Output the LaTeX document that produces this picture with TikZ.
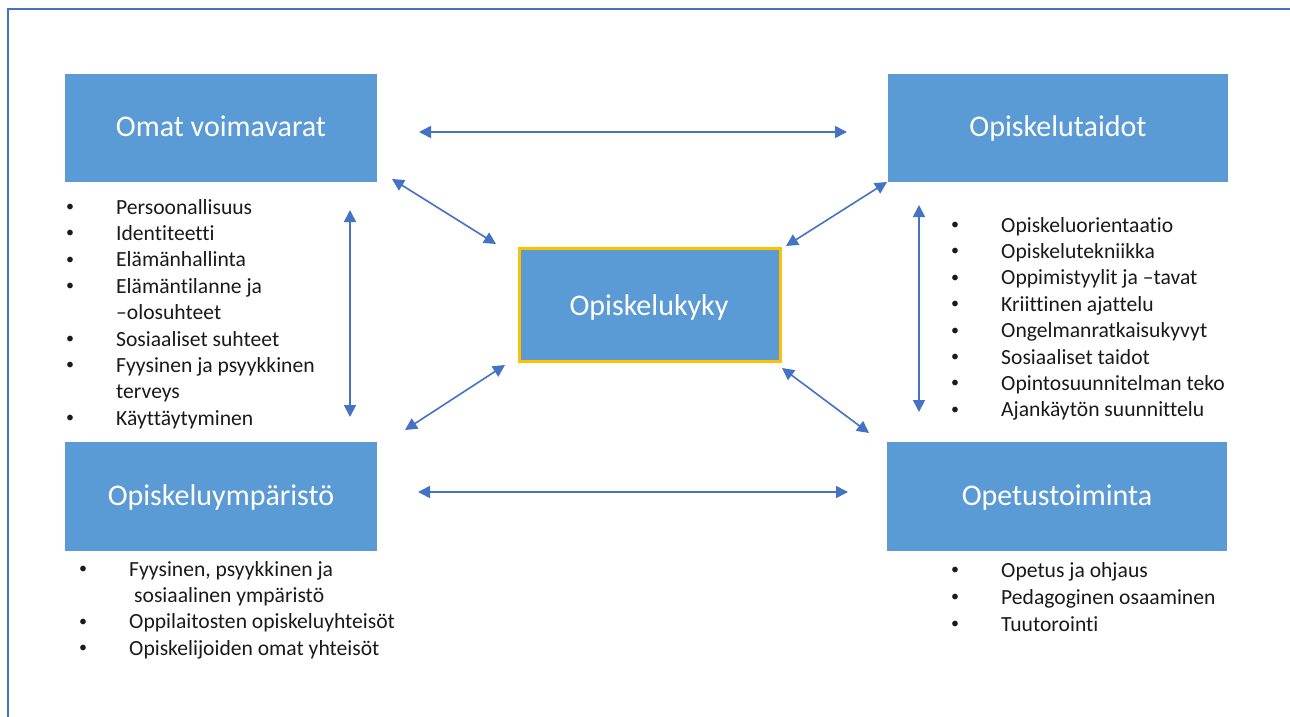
\documentclass[tikz,border=0pt]{standalone}
\usepackage{fontspec}
\setmainfont{Carlito}[Ligatures={NoCommon}]
\usetikzlibrary{arrows.meta}
\definecolor{boxblue}{HTML}{5B9BD5}
\definecolor{arrowblue}{HTML}{4472C4}
\definecolor{goldline}{HTML}{FFC000}
\definecolor{listtext}{HTML}{1A1A1A}
\begin{document}
\begin{tikzpicture}[x=1pt,y=-1pt,
  bluebox/.style={rectangle,fill=boxblue,draw=none,inner sep=0pt},
  boxlabel/.style={anchor=base,inner sep=0pt,text=white,font=\fontsize{30}{36}\selectfont},
  listitem/.style={anchor=base west,inner sep=0pt,text=listtext,font=\fontsize{21.6}{26.4}\selectfont},
  bulletmark/.style={anchor=base,inner sep=0pt,text=listtext,yshift=2.5pt,font=\fontsize{16}{20}\selectfont},
  link/.style={draw=arrowblue,line width=1.6pt,{Triangle[length=12pt,width=12pt]}-{Triangle[length=12pt,width=12pt]}},
  framebar/.style={draw=arrowblue,line width=2pt}
]
\useasboundingbox (0,0) rectangle (1290,717);
\fill[white] (0,0) rectangle (1290,717);

% frame
\coordinate (fa) at (8,717);
\coordinate (fb) at (8,9);
\coordinate (fc) at (1290,9);
\draw[framebar] (fa) -- (fb) -- (fc);

% boxes
\node[bluebox,minimum width=312pt,minimum height=108pt] (omat) at (221,128) {};
\node[bluebox,minimum width=340pt,minimum height=108pt] (taidot) at (1058,128) {};
\node[bluebox,minimum width=312pt,minimum height=109pt] (ymp) at (221,496) {};
\node[bluebox,minimum width=340pt,minimum height=109pt] (opetus) at (1057,496) {};
\node[bluebox,draw=goldline,line width=3pt,minimum width=261pt,minimum height=113pt] (kyky) at (650,305) {};

\node[boxlabel] (tomat) at (221,136) {Omat voimavarat};
\node[boxlabel] (ttaidot) at (1058,136) {Opiskelutaidot};
\node[boxlabel] (tymp) at (221,505) {Opiskeluympäristö};
\node[boxlabel] (topetus) at (1057,505) {Opetustoiminta};
\node[boxlabel] (tkyky) at (649,315) {Opiskelukyky};

% connectors
\coordinate (h1a) at (419,132);
\coordinate (h1b) at (847,132);
\coordinate (h2a) at (418,492);
\coordinate (h2b) at (848,492);
\coordinate (d1a) at (392,179);
\coordinate (d1b) at (496,244);
\coordinate (d2a) at (887,182);
\coordinate (d2b) at (786,246);
\coordinate (d3a) at (505,365);
\coordinate (d3b) at (405,430);
\coordinate (d4a) at (782,368);
\coordinate (d4b) at (869,433);
\coordinate (v1a) at (350,210);
\coordinate (v1b) at (350,417);
\coordinate (v2a) at (919,205);
\coordinate (v2b) at (919,412);
\draw[link] (h1a) -- (h1b);
\draw[link] (h2a) -- (h2b);
\draw[link] (d1a) -- (d1b);
\draw[link] (d2a) -- (d2b);
\draw[link] (d3a) -- (d3b);
\draw[link] (d4a) -- (d4b);
\draw[link] (v1a) -- (v1b);
\draw[link] (v2a) -- (v2b);

% left top list
\foreach \t/\b [count=\i from 0] in {Persoonallisuus/1,Identiteetti/1,Elämänhallinta/1,Elämäntilanne ja/1,–olosuhteet/0,Sosiaaliset suhteet/1,Fyysinen ja psyykkinen/1,terveys/0,Käyttäytyminen/1}{
  \node[listitem] (la\i) at (116,214+26.4*\i) {\t};
  \ifnum\b=1 \node[bulletmark] (lab\i) at (70,214+26.4*\i) {•};\fi
}
% right top list
\foreach \t [count=\i from 0] in {Opiskeluorientaatio,Opiskelutekniikka,Oppimistyylit ja –tavat,Kriittinen ajattelu,Ongelmanratkaisukyvyt,Sosiaaliset taidot,Opintosuunnitelman teko,Ajankäytön suunnittelu}{
  \node[listitem] (ra\i) at (1001,232+26.4*\i) {\t};
  \node[bulletmark] (rab\i) at (955,232+26.4*\i) {•};
}
% left bottom list
\node[listitem] (lb0) at (129,576) {Fyysinen, psyykkinen ja};
\node[bulletmark] (lbb0) at (83,576) {•};
\node[listitem] (lb1) at (134,602.4) {sosiaalinen ympäristö};
\node[listitem] (lb2) at (129,628.8) {Oppilaitosten opiskeluyhteisöt};
\node[bulletmark] (lbb2) at (83,628.8) {•};
\node[listitem] (lb3) at (129,655.2) {Opiskelijoiden omat yhteisöt};
\node[bulletmark] (lbb3) at (83,655.2) {•};
% right bottom list
\foreach \t [count=\i from 0] in {Opetus ja ohjaus,Pedagoginen osaaminen,Tuutorointi}{
  \node[listitem] (rb\i) at (1001,577+27*\i) {\t};
  \node[bulletmark] (rbb\i) at (955,577+27*\i) {•};
}
\end{tikzpicture}
\end{document}
